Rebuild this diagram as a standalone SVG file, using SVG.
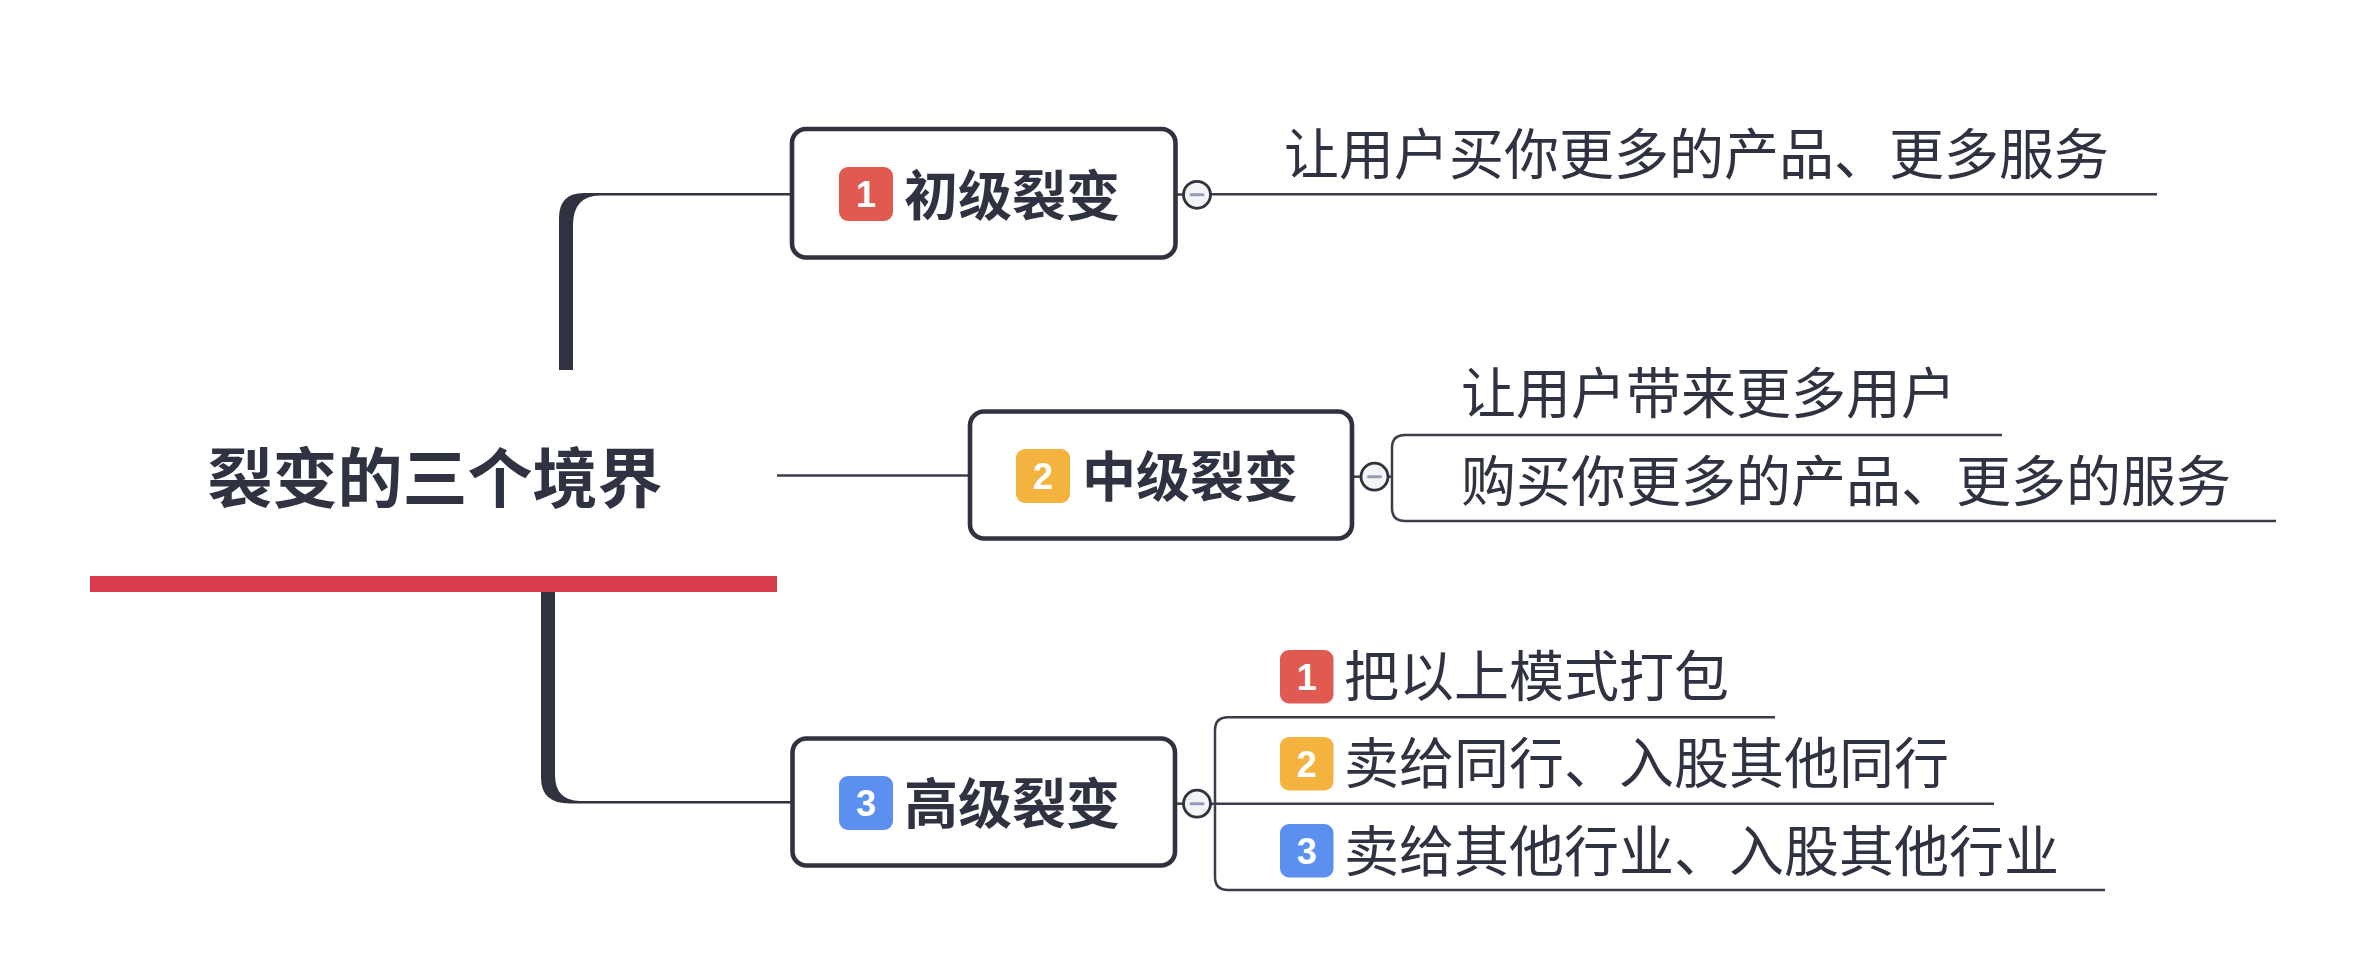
<svg xmlns="http://www.w3.org/2000/svg" width="2370" height="966" viewBox="0 0 2370 966">
<style>
.node{fill:#ffffff;stroke:#30333f;stroke-width:4.6}
.ln{fill:none;stroke:#3a3d4a;stroke-width:2.5}
.thick{fill:#30333f;stroke:none}
.tog{fill:#f3f4f8;stroke:#30333f;stroke-width:2.8}
.minus{stroke:#9a9ab8;stroke-width:3;stroke-linecap:round}
.title{font-family:"Noto Sans CJK SC","Noto Sans",sans-serif;font-weight:700;fill:#2f3240}
.sub{font-family:"Noto Sans CJK SC","Noto Sans",sans-serif;font-weight:400;fill:#2f3240;font-size:55px}
.num{font-family:"Liberation Sans","DejaVu Sans",sans-serif;font-weight:700;fill:#ffffff;font-size:36px;text-anchor:middle}
.r{fill:#e05a52}.y{fill:#f3b33e}.b{fill:#5b8ff0}
</style>
<rect width="2370" height="966" fill="#ffffff"/>
<g id="connectors">
  <path class="thick" d="M559,370 L559,218 Q559,193 584,193 L792,193 L792,195.5 L600,195.5 Q573,196 573,225 L573,370 Z"/>
  <path class="thick" d="M541,592 L541,778 Q541,803.5 570,803.5 L792,803.5 L792,801 L580,801 Q555,800.5 555,775 L555,592 Z"/>
  <line class="ln" x1="777" y1="475.5" x2="970" y2="475.5"/>
  <line class="ln" x1="1176" y1="194.5" x2="1184" y2="194.5"/>
  <line class="ln" x1="1210" y1="194.3" x2="2157" y2="194.3"/>
  <line class="ln" x1="1352" y1="476.7" x2="1361" y2="476.7"/>
  <line class="ln" x1="1388" y1="476.7" x2="1392" y2="476.7"/>
  <path class="ln" d="M2002,435 L1405,435 Q1392,435 1392,448 L1392,508 Q1392,521 1405,521 L2276,521"/>
  <line class="ln" x1="1175" y1="803.7" x2="1184" y2="803.7"/>
  <line class="ln" x1="1210" y1="803.7" x2="1994" y2="803.7"/>
  <path class="ln" d="M1775,717.3 L1228,717.3 Q1215,717.3 1215,730.3 L1215,877 Q1215,890 1228,890 L2105,890"/>
</g>
<g id="root">
  <text class="title" x="435" y="502" font-size="65" text-anchor="middle">裂变的三个境界</text>
  <rect x="90" y="576" width="687" height="16" fill="#d93c4b"/>
</g>
<g id="node1">
  <rect class="node" x="792" y="129" width="383.5" height="128.5" rx="14"/>
  <rect class="r" x="839" y="167" width="54" height="54" rx="9"/>
  <text class="num" x="866" y="207">1</text>
  <text class="title" x="904" y="215.5" font-size="54">初级裂变</text>
  <circle class="tog" cx="1197" cy="194.8" r="13.5"/>
  <line class="minus" x1="1191" y1="194.8" x2="1203" y2="194.8"/>
</g>
<g id="node1-1">
  <text class="sub" x="1284" y="173.5">让用户买你更多的产品、更多服务</text>
</g>
<g id="node2">
  <rect class="node" x="970" y="411.5" width="382" height="127" rx="14"/>
  <rect class="y" x="1016" y="449" width="54" height="54" rx="9"/>
  <text class="num" x="1043" y="489">2</text>
  <text class="title" x="1082" y="497" font-size="54">中级裂变</text>
  <circle class="tog" cx="1374.5" cy="476.7" r="13.5"/>
  <line class="minus" x1="1368.5" y1="476.7" x2="1380.5" y2="476.7"/>
</g>
<g id="node2-1">
  <text class="sub" x="1461" y="413">让用户带来更多用户</text>
</g>
<g id="node2-2">
  <text class="sub" x="1461" y="501">购买你更多的产品、更多的服务</text>
</g>
<g id="node3">
  <rect class="node" x="792.5" y="738.5" width="382.5" height="127" rx="14"/>
  <rect class="b" x="839" y="776" width="54" height="54" rx="9"/>
  <text class="num" x="866" y="816">3</text>
  <text class="title" x="904" y="824" font-size="54">高级裂变</text>
  <circle class="tog" cx="1197" cy="803.7" r="13.5"/>
  <line class="minus" x1="1191" y1="803.7" x2="1203" y2="803.7"/>
</g>
<g id="node3-1">
  <rect class="r" x="1280" y="650" width="53.5" height="53.5" rx="9"/>
  <text class="num" x="1306.7" y="689.5">1</text>
  <text class="sub" x="1344" y="696">把以上模式打包</text>
</g>
<g id="node3-2">
  <rect class="y" x="1280" y="737" width="53.5" height="53.5" rx="9"/>
  <text class="num" x="1306.7" y="776.5">2</text>
  <text class="sub" x="1344" y="783">卖给同行、入股其他同行</text>
</g>
<g id="node3-3">
  <rect class="b" x="1280" y="824" width="53.5" height="53.5" rx="9"/>
  <text class="num" x="1306.7" y="863.5">3</text>
  <text class="sub" x="1344" y="870.5">卖给其他行业、入股其他行业</text>
</g>
</svg>
